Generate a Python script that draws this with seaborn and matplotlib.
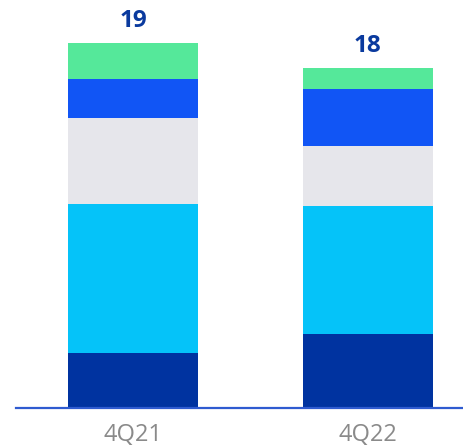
import numpy as np
import pandas as pd
import seaborn as sns
import matplotlib.pyplot as plt

# Datos (de abajo hacia arriba)
quarters = ["4Q21", "4Q22"]
navy = [2.9, 3.9]
cyan = [7.8, 6.65]
gray = [4.5, 3.15]
blue = [2.0, 3.0]
green = [1.9, 1.1]
total_labels = ["19", "18"]

layers = [navy, cyan, gray, blue, green]
colors = ["#0033A0", "#05C3F9", "#E6E6EB", "#1155F5", "#55E89A"]

sns.set_theme(style="white")
plt.rcParams["font.family"] = ["Open Sans", "DejaVu Sans"]

fig = plt.figure(figsize=(4.64, 4.46), dpi=100)
ax = fig.add_axes([16 / 464, 1 - 408 / 446, 448 / 464, 408 / 446])

# Apilar: dibujar las sumas acumuladas de la más alta a la más baja
cum = np.cumsum(np.array(layers), axis=0)
for level in range(len(layers) - 1, -1, -1):
    df = pd.DataFrame({"quarter": quarters, "value": cum[level]})
    sns.barplot(data=df, x="quarter", y="value", color=colors[level],
                width=0.553, saturation=1, ax=ax, linewidth=0)

totals = cum[-1]
for i, lab in enumerate(total_labels):
    ax.text(i, totals[i] + 0.55, lab, ha="center", va="bottom",
            fontsize=17.5, fontweight="bold", color="#0A3A9E")

ax.set_xlim(-0.498, 1.409)
ax.set_ylim(0, 408 / 19.1)
ax.set_xlabel("")
ax.set_ylabel("")
ax.set_yticks([])
for side in ["top", "right", "left"]:
    ax.spines[side].set_visible(False)
ax.spines["bottom"].set_color("#2F5BD0")
ax.spines["bottom"].set_linewidth(1.6)
ax.tick_params(axis="x", length=0, pad=11, labelsize=17, labelcolor="#8A8A8A")

fig.savefig("out.png", dpi=100)
